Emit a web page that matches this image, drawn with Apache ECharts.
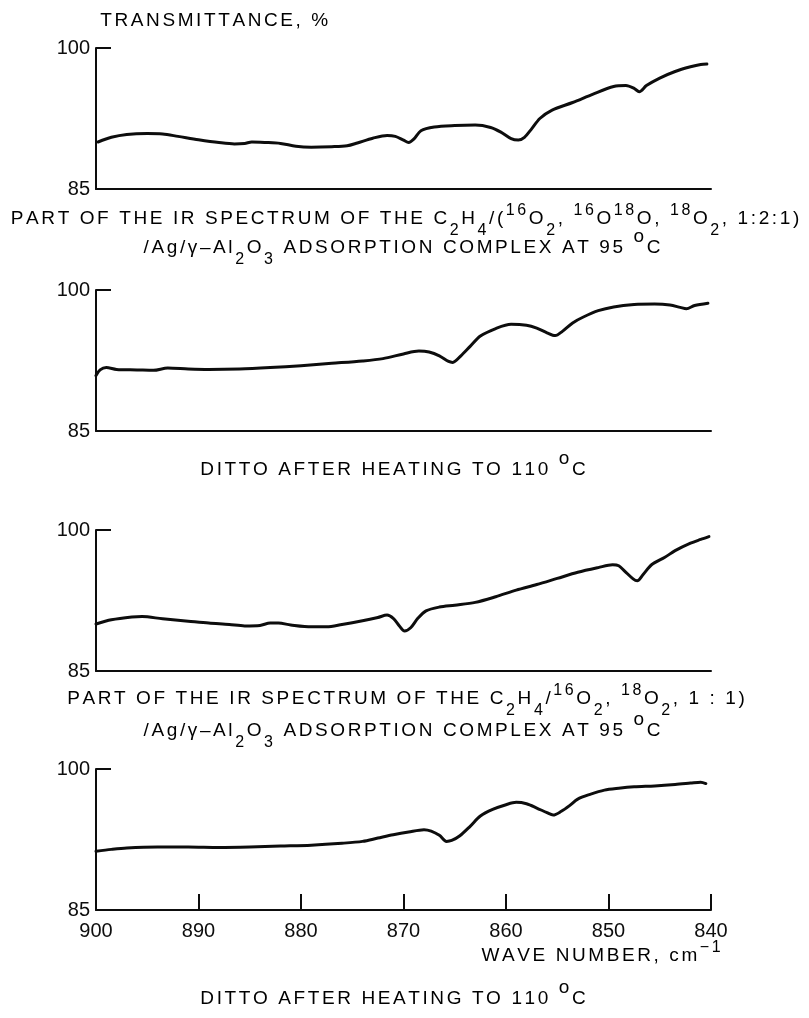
<!DOCTYPE html>
<html>
<head>
<meta charset="utf-8">
<title>IR spectra of C2H4/O2 on Ag/γ-Al2O3</title>
<script src="https://cdn.jsdelivr.net/npm/echarts@6/dist/echarts.min.js"></script>
<style>
  html, body { margin: 0; padding: 0; background: #ffffff; }
  #chart { width: 809px; height: 1018px; }
</style>
</head>
<body>
<div id="chart"></div>
<script>
// Wavenumber axis (cm-1), drawn decreasing from left to right
const wavenumberTicks = [900, 890, 880, 870, 860, 850, 840];
// Transmittance axis (%)
const transmittanceTicks = [85, 100];

// [wavenumber, transmittance %] — C2H4/(16O2, 16O18O, 18O2 1:2:1)/Ag/γ-Al2O3, 95 °C
const spectrumMix121At95 = [
  [899.8, 90.0], [898.5, 90.5], [897, 90.8], [895, 90.9], [893.5, 90.85], [892, 90.6],
  [890, 90.25], [888, 89.95], [886.5, 89.8], [885.5, 89.85], [884.8, 90.0], [883.5, 89.95],
  [882, 89.85], [880.5, 89.55], [879, 89.45], [877, 89.5], [875.5, 89.6], [874.5, 89.9],
  [873, 90.4], [871.6, 90.7], [870.8, 90.6], [870, 90.2], [869.5, 89.95], [869, 90.3],
  [868.3, 91.2], [867, 91.6], [865, 91.75], [863, 91.8], [861.5, 91.55], [860.5, 91.05],
  [859.5, 90.35], [858.8, 90.2], [858.2, 90.5], [857.5, 91.4], [856.7, 92.5], [855.5, 93.4],
  [853.5, 94.2], [851.5, 95.1], [849.5, 95.9], [848.3, 96.0], [847.5, 95.7], [847, 95.35],
  [846.3, 96.0], [845, 96.8], [843.5, 97.5], [842, 98.0], [841, 98.25], [840.4, 98.3]
];

// same sample after heating to 110 °C
const spectrumMix121At110 = [
  [900, 90.9], [899.6, 91.5], [899, 91.75], [898, 91.55], [896, 91.5], [894.4, 91.45],
  [893, 91.7], [891, 91.6], [889, 91.55], [886, 91.6], [883, 91.75], [880, 91.95],
  [877, 92.2], [874, 92.45], [872, 92.7], [870, 93.2], [868.5, 93.5], [867.5, 93.4],
  [866.5, 93.0], [865.6, 92.4], [865.2, 92.3], [864.4, 93.0], [863.5, 94.0], [862.5, 95.1],
  [861, 95.9], [859.5, 96.35], [858, 96.25], [857, 95.95], [856, 95.45], [855.2, 95.15],
  [854.5, 95.6], [853.5, 96.5], [852.5, 97.1], [851, 97.8], [849.5, 98.2], [847.5, 98.45],
  [845.5, 98.5], [844, 98.4], [843, 98.15], [842.4, 98.0], [841.6, 98.35], [840.3, 98.6]
];

// C2H4/(16O2, 18O2 1:1)/Ag/γ-Al2O3, 95 °C
const spectrumMix11At95 = [
  [900, 90.0], [898.5, 90.45], [896.5, 90.75], [895.5, 90.8], [893.5, 90.55], [891, 90.3],
  [889, 90.1], [887, 89.95], [885.5, 89.8], [884, 89.85], [883, 90.1], [882.2, 90.1],
  [881, 89.9], [879, 89.7], [877.5, 89.7], [876, 89.95], [874, 90.35], [872.5, 90.7],
  [871.6, 90.95], [871, 90.6], [870.4, 89.8], [869.9, 89.25], [869.3, 89.6], [868.6, 90.6],
  [867.8, 91.4], [866.5, 91.8], [865, 92.0], [863, 92.3], [861, 92.9], [859, 93.6],
  [857, 94.2], [855, 94.85], [853, 95.5], [851, 96.0], [849.6, 96.3], [849, 96.2],
  [848.4, 95.6], [847.6, 94.8], [847.2, 94.6], [846.6, 95.3], [845.8, 96.3], [844.5, 97.1],
  [843.5, 97.8], [842, 98.6], [841, 99.0], [840.2, 99.3]
];

// same sample after heating to 110 °C
const spectrumMix11At110 = [
  [900, 91.25], [898.5, 91.45], [897, 91.6], [894, 91.7], [891, 91.7], [888, 91.65],
  [885, 91.7], [882, 91.8], [879, 91.9], [876, 92.1], [874, 92.3], [872.5, 92.65],
  [871, 93.0], [869.5, 93.3], [868, 93.55], [867.3, 93.4], [866.5, 92.95], [865.8, 92.3],
  [865.3, 92.4], [864.5, 92.9], [863.5, 93.9], [862.5, 95.0], [861.3, 95.7], [860, 96.2],
  [859, 96.45], [858, 96.3], [857, 95.85], [856, 95.35], [855.4, 95.1], [854.6, 95.5],
  [853.8, 96.1], [853, 96.8], [851.8, 97.3], [850.4, 97.75], [849, 97.95], [847.5, 98.1],
  [845.5, 98.2], [843.5, 98.35], [842, 98.5], [841, 98.6], [840.5, 98.45]
];

// Caption texts as [text, kind] runs: n = normal, sup = superscript, sub = subscript, deg = degree sign
const captionSpectrum121 = [
  ['PART OF THE IR SPECTRUM OF THE C', 'n'], ['2', 'sub'], ['H', 'n'], ['4', 'sub'], ['/(', 'n'],
  ['16', 'sup'], ['O', 'n'], ['2', 'sub'], [', ', 'n'], ['16', 'sup'], ['O', 'n'], ['18', 'sup'],
  ['O, ', 'n'], ['18', 'sup'], ['O', 'n'], ['2', 'sub'], [', 1:2:1)', 'n']
];
const captionSpectrum11 = [
  ['PART OF THE IR SPECTRUM OF THE C', 'n'], ['2', 'sub'], ['H', 'n'], ['4', 'sub'], ['/', 'n'],
  ['16', 'sup'], ['O', 'n'], ['2', 'sub'], [', ', 'n'], ['18', 'sup'], ['O', 'n'], ['2', 'sub'],
  [', 1 : 1)', 'n']
];
const captionComplex = [
  ['/Ag/γ–Al', 'n'], ['2', 'sub'], ['O', 'n'], ['3', 'sub'], [' ADSORPTION COMPLEX AT 95 ', 'n'],
  ['o', 'deg'], ['C', 'n']
];
const captionDitto = [['DITTO AFTER HEATING TO 110 ', 'n'], ['o', 'deg'], ['C', 'n']];
const yAxisTitle = [['TRANSMITTANCE, %', 'n']];
const xAxisTitle = [['WAVE NUMBER, cm', 'n'], ['−1', 'sup']];

const panelSeries = [spectrumMix121At95, spectrumMix121At110, spectrumMix11At95, spectrumMix11At110];

const INK = '#0d0d0d';
const FONT = '"Liberation Sans", Arial, Helvetica, sans-serif';
const TRACK = 1.3;      // half of the letter spacing, px
const LINE_H = 40;

const richStyles = {
  n:   { fontSize: 19, fontFamily: FONT, color: INK, lineHeight: LINE_H, verticalAlign: 'middle', padding: [0, TRACK, 0, TRACK] },
  sup: { fontSize: 16, fontFamily: FONT, color: INK, lineHeight: LINE_H, verticalAlign: 'middle', padding: [0, TRACK, 16, TRACK] },
  sub: { fontSize: 16, fontFamily: FONT, color: INK, lineHeight: LINE_H, verticalAlign: 'middle', padding: [24, TRACK, 0, TRACK] },
  deg: { fontSize: 19, fontFamily: FONT, color: INK, lineHeight: LINE_H, verticalAlign: 'middle', padding: [0, TRACK, 22, TRACK] }
};

// Each glyph becomes its own rich token so it can carry letter spacing
function richText(runs) {
  return runs.map(([text, kind]) =>
    Array.from(text).map(ch => '{' + kind + '|' + ch + '}').join('')
  ).join('');
}

function textItem(runs, x, y, align) {
  return {
    type: 'text',
    x: x,
    y: y,
    silent: true,
    style: {
      text: richText(runs),
      rich: richStyles,
      align: align, textAlign: align,
      verticalAlign: 'middle', textVerticalAlign: 'middle'
    }
  };
}

const PLOT_LEFT = 96;
const PLOT_RIGHT = 98;
const PLOT_HEIGHT = 141;
const panelTops = [48, 290, 530, 769];

const grids = panelTops.map(top => ({ left: PLOT_LEFT, right: PLOT_RIGHT, top: top, height: PLOT_HEIGHT }));

const xAxes = panelTops.map((_, i) => {
  const labelled = i === panelTops.length - 1;
  return {
    type: 'value',
    gridIndex: i,
    inverse: true,
    min: Math.min(...wavenumberTicks),
    max: Math.max(...wavenumberTicks),
    interval: wavenumberTicks[0] - wavenumberTicks[1],
    axisLine: { show: true, onZero: false, lineStyle: { color: INK, width: 2 } },
    axisTick: { show: labelled, inside: true, length: 16, lineStyle: { color: INK, width: 2 } },
    axisLabel: { show: labelled, color: INK, fontFamily: FONT, fontSize: 20, margin: 11 },
    splitLine: { show: false }
  };
});

const yAxes = panelTops.map((_, i) => ({
  type: 'value',
  gridIndex: i,
  min: transmittanceTicks[0],
  max: transmittanceTicks[1],
  interval: transmittanceTicks[1] - transmittanceTicks[0],
  axisLine: { show: true, lineStyle: { color: INK, width: 2 } },
  axisTick: { show: true, inside: true, length: 15, lineStyle: { color: INK, width: 2 } },
  axisLabel: { show: true, color: INK, fontFamily: FONT, fontSize: 20, margin: 6 },
  splitLine: { show: false }
}));

const series = panelSeries.map((data, i) => ({
  type: 'line',
  xAxisIndex: i,
  yAxisIndex: i,
  data: data,
  showSymbol: false,
  smooth: 0.3,
  lineStyle: { color: INK, width: 3, cap: 'round', join: 'round' },
  silent: true
}));

const graphics = [
  textItem(yAxisTitle, 99, 21, 'left'),
  textItem(captionSpectrum121, 405, 219, 'center'),
  textItem(captionComplex, 402, 248, 'center'),
  textItem(captionDitto, 393, 470, 'center'),
  textItem(captionSpectrum11, 406, 699, 'center'),
  textItem(captionComplex, 402, 731, 'center'),
  textItem(xAxisTitle, 722, 956, 'right'),
  textItem(captionDitto, 393, 999, 'center')
];

const chart = echarts.init(document.getElementById('chart'), null, { renderer: 'canvas' });
chart.setOption({
  animation: false,
  backgroundColor: '#ffffff',
  grid: grids,
  xAxis: xAxes,
  yAxis: yAxes,
  series: series,
  graphic: graphics
});
</script>
</body>
</html>
